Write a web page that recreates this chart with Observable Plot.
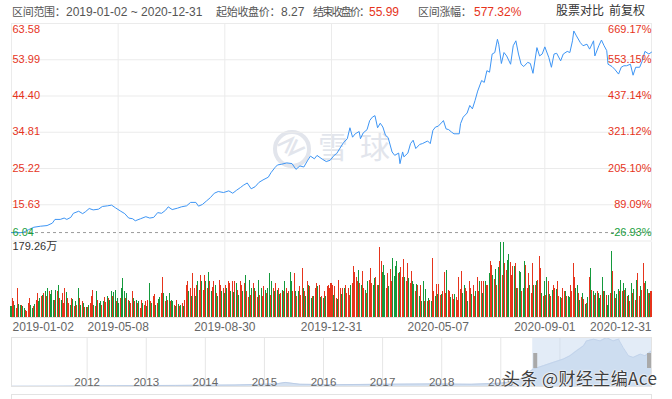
<!DOCTYPE html>
<html><head><meta charset="utf-8">
<script src="https://cdn.jsdelivr.net/npm/d3@7"></script>
<script src="https://cdn.jsdelivr.net/npm/@observablehq/plot@0.6"></script>
<style>
body{margin:0;background:#fff;}
#wrap{position:relative;width:672px;height:399px;overflow:hidden;background:#fff;font-family:"Liberation Sans",Arial,"Noto Sans CJK SC",sans-serif;}
.h{position:absolute;top:5px;white-space:nowrap;line-height:14px;}
.cjk{font-size:11px;color:#555;}
.num{font-size:12px;color:#555;}
</style></head>
<body><div id="wrap"></div>
<script>
// ---------- data ----------
const headerRange = ["2019-01-02", "2020-12-31"];
const startClose = 8.27;
const endClose = 55.99;
const rangeChange = "577.32%";

const dateTickIdx = [0, 81, 162, 243, 324, 405, 486];
const dateTickLabels = ["2019-01-02","2019-05-08","2019-08-30","2019-12-31","2020-05-07","2020-09-01","2020-12-31"];
const priceTicks = [6.04, 15.63, 25.22, 34.81, 44.40, 53.99, 63.58];
const priceTickLabels = ["6.04","15.63","25.22","34.81","44.40","53.99","63.58"];
const pctTickLabels = ["-26.93%","89.09%","205.10%","321.12%","437.14%","553.15%","669.17%"];
const volMax = 179.26;
const volMaxLabel = "179.26万";

// trading-day index and close price
const days = [0,6,9,13,17,22,27,31,33,37,40,42,45,47,51,54,56,59,62,66,69,73,76,79,83,86,89,92,94,98,102,105,108,111,114,117,119,122,126,129,133,136,140,142,145,148,151,154,157,161,165,168,171,174,176,179,182,185,188,191,195,197,200,202,205,209,213,216,219,222,225,227,230,232,236,239,242,245,247,250,252,255,257,259,261,264,265,267,270,272,274,276,278,280,282,284,286,289,291,294,295,297,298,301,303,305,307,310,312,316,318,320,322,324,327,328,330,332,334,336,340,341,343,346,348,350,352,354,357,359,361,363,365,367,369,370,372,374,376,379,381,383,385,387,389,392,394,396,399,401,403,405,408,410,412,414,417,419,422,424,426,427,429,432,434,437,439,442,443,446,448,450,452,453,456,458,461,463,465,467,470,472,474,477,479,481,484,486];
const closes = [8.27,8.23,8.32,9.04,9.68,9.95,10.12,10.76,11.75,11.75,12.11,11.75,12.29,13.37,13.91,13.28,13.73,14.63,14.27,14.45,15.17,15.35,15.53,14.81,13.91,13.28,12.11,11.93,11.39,11.93,12.47,12.11,12.29,13.55,13.37,14.18,15.08,14.36,14.72,15.08,15.35,16.25,16.25,15.26,15.71,16.61,17.51,18.68,19.13,18.86,19.31,18.68,19.49,20.22,20.76,21.39,19.85,20.40,21.57,22.20,22.92,24.09,25.44,26.16,26.34,26.70,26.52,24.99,25.89,25.62,27.42,28.50,27.78,28.68,27.69,27.06,27.40,28.70,29.2,30.9,32.0,33.1,36.0,33.5,34.4,35.0,33.1,34.6,35.5,37.9,38.8,39.2,36.0,37.2,36.2,34.0,33.4,29.6,28.7,29.3,26.5,29.6,28.3,29.3,31.8,32.7,30.5,31.6,31.8,32.5,31.8,35.3,36.2,36.4,37.5,37.9,35.7,35.5,34.9,34.4,34.4,37.1,38.8,39.9,41.9,41.0,43.2,45.7,48.5,48.0,51.1,50.7,55.5,55.9,59.4,58.1,53.0,55.9,55.0,52.8,57.7,59.0,55.5,52.8,52.2,53.3,53.0,50.4,57.2,55.0,55.5,57.4,54.6,52.0,55.5,55.7,53.7,55.5,56.2,55.9,59.0,61.6,60.3,58.5,57.7,58.1,56.8,59.0,55.0,57.7,59.2,57.7,56.4,52.8,52.2,51.5,50.2,52.0,52.4,52.4,52.8,49.9,52.0,52.0,53.7,56.2,55.5,55.99];

// daily volume (万), one per trading day
const volumes = [
25,45,37,29,21,70,31,29,29,25, 21,17,15,33,45,29,21,25,31,41, 57,37,45,49,53,57,62,49,69,61,55,
65,41,41,65,62,77,45,41,57,33, 69,59,45,33,29,45,43,25,37,29, 69,45,29,39,33,23,23,23,29,33,
51,65,29,25,61,41,33,39,29,37,47, 36,49,45,41,61,49,59,65,37,45, 33,45,69,92,61,45,57,41,37,33,
61,45,37,41,33,39,21,41,33,29, 37,25,41,80,37,33,49,55,29,33,43, 47,57,94,57,37,49,41,57,37,41,
37,29,25,41,31,25,29,33,25,41, 77,85,61,69,49,104,69,49,77,85, 65,99,85,65,100,85,69,108,85,61,72,
85,77,57,49,88,77,61,70,57,75, 69,86,81,61,85,59,86,80,65,53, 85,77,61,81,100,61,47,88,53,69,
81,69,61,47,88,53,69,49,73,65,58, 69,104,53,85,69,61,81,65,70,55, 57,65,61,85,69,57,62,108,85,61,
104,61,49,61,73,53,116,69,61,49, 86,77,73,45,49,49,69,81,73,77, 47,49,45,61,49,73,77,69,
81,77,53,73,45,43,88,69,55,69, 69,77,57,69,53,77,81,120,108,96, 85,111,81,77,110,70,65,57,85,88,
116,81,77,92,94,77,77,167,134,106, 124,100,69,104,73,115,85,141,98,120, 132,104,108,118,96,138,94,85,128,92,80,
110,85,78,61,78,75,49,75,39,85, 39,67,37,45,40,37,141,61,51,78,55, 78,53,55,62,107,57,112,65,61,47,
55,43,55,47,41,96,67,110,57,77,70, 61,39,86,70,55,77,51,61,96,61, 86,86,57,85,86,77,77,104,132,124,100,
91,115,77,118,132,178,99,179.26,128,112, 136,149,130,100,120,122,128,69,70,110, 108,61,69,134,124,70,104,77,57,128,
77,75,85,88,146,116,57,49,86,53, 96,85,55,51,65,77,69,67,85,49, 47,45,69,61,61,51,49,47,77,61,
128,94,69,77,57,41,47,57,43,31, 33,47,94,116,65,61,53,57,61,58, 45,53,94,61,61,53,29,53,57,156,
110,61,45,55,67,61,88,61,80,65, 69,49,53,39,80,57,67,41,88,104, 49,73,65,128,81,85,67,57,57,61
];
// r = closed up (red), g = closed down (green)
const volDir = (
"grrgrrggrg"+"grrrrggrgr"+"rggrgrgrgrg"+"ggrgrgrgrr"+"rgrrgrgrgr"+"grgrgrgrgr"+
"rrgrgrggrgr"+"rgrggrggrg"+"grgggrgrgr"+"rgrgrgrrgr"+"rgrgrgrrgrg"+"grrgrgrgrg"+
"grgrgrgrgr"+"rrgrgrrgrg"+"rrgrrgrgrgr"+"rgrgrrgrgr"+"grrgrgrgrg"+"rrgrgrrgrg"+
"rgrrgrgrrgr"+"ggrgrgrgrg"+"rgrgrgrggr"+"rgrgrrrgrg"+"rgrgrgrrgr"+"grgrgrrr"+
"rrgrrgrrgr"+"grrrrgrrrr"+"rgrgrrgrgr"+"rrggrrgrrg"+"ggrrgrrggg"+"grgrrrgrrgr"+
"rggrgrgrgg"+"rgrgrgrrgrg"+"rrgrrrgrrg"+"rrgrrrrrggr"+"rgrrgrrgrr"+"grgrgrrgrrg"+
"rgrgrgrgrr"+"ggrrrgrgrg"+"grggrrrgrr"+"grgrrrgrgr"+"grgrgrrgrr"+"grrrgrggrr"+
"rrggrgrgrg"+"rgrgrgrgrg"+"grgrgrggrg"+"rgrggrgrgr"+"grgrgrgrgr"+"rgrrrggrgr"
).split("");

// navigator (full history overview)
const navYears = [2012,2013,2014,2015,2016,2017,2018,2019,2020,2021];
const navYearLabels = ["2012","2013","2014","2015","2016","2017","2018","2019"];
const navT = [2010.72,2011.5,2012.5,2013.5,2014.5,2015.2,2015.35,2015.6,2016.2,2017.0,2017.8,2018.5,2019.0,2019.3,2019.55,2019.72,2019.89,2020.06,2020.17,2020.28,2020.40,2020.45,2020.57,2020.68,2020.79,2020.90,2020.99,2021.07,2021.16,2021.24,2021.36,2021.44,2021.55];
const navV = [0.3,0.5,1.0,1.5,2.0,3.5,5.5,3.0,2.5,3.0,3.5,3.0,4.5,8,23.6,28,32.5,37,41.4,48,54.8,61.4,63.7,61.4,65.9,61.4,63.7,52.5,41.4,39.2,43.6,41.4,48];
const navSelection = [2019.54, 2021.55];

// ---------- styles ----------
const red = "#e6341c", green = "#14993c", greenText = "#1a9e3e", blue = "#3d95f5", grid = "#ebebeb";
const font = '"Liberation Sans", Arial, "Noto Sans CJK SC", sans-serif';
const W = 672;
const wrap = document.getElementById("wrap");
function put(el, top) {
  el.style.position = "absolute"; el.style.left = "0px"; el.style.top = top + "px";
  wrap.appendChild(el);
}
function html(tag, css, text) {
  const e = document.createElement(tag); e.style.cssText = css; if (text != null) e.textContent = text;
  wrap.appendChild(e); return e;
}

// ---------- header ----------
// [left, class, text, colour, letter-spacing]
const hdr = [
  [12, "cjk", "区间范围：", null, -0.3], [66, "num", headerRange[0] + " ~ " + headerRange[1]],
  [216, "cjk", "起始收盘价：", null, -0.3], [281, "num", String(startClose)],
  [313, "cjk", "结束收盘价：", null, -1.8], [369, "num", endClose.toFixed(2), red],
  [418, "cjk", "区间涨幅：", null, -0.3], [474, "num", rangeChange, red]
];
hdr.forEach(([x, cls, t, c, ls]) => {
  const e = html("div", `left:${x}px;` + (c ? `color:${c};` : "") + (ls ? `letter-spacing:${ls}px;` : ""), t);
  e.className = "h " + cls;
});
html("div", "position:absolute;left:556px;top:4px;font-size:12px;line-height:15px;color:#333;white-space:nowrap;", "股票对比");
html("div", "position:absolute;left:609px;top:4px;font-size:12px;line-height:15px;color:#333;white-space:nowrap;", "前复权");

// ---------- watermark (snowball) ----------
html("div", "position:absolute;left:273px;top:130px;width:30px;height:30px;border:4px solid #e2e5ec;border-radius:50%;");
html("div", "position:absolute;left:276px;top:131px;width:32px;text-align:center;font-size:24px;line-height:32px;color:#e2e5ec;font-weight:bold;transform:rotate(-45deg);", "≷");
html("div", "position:absolute;left:318px;top:127px;font-size:30px;line-height:36px;letter-spacing:12px;color:#e2e5ec;font-family:'Noto Sans CJK SC',sans-serif;", "雪球");

// ---------- price panel ----------
const priceRows = days.map((d, i) => ({d, p: closes[i]}));
const tickRows = priceTicks.map((v, i) => ({v, l: priceTickLabels[i], r: pctTickLabels[i], i}));
const lastT = tickRows.length - 1;
const labelMarks = (rows, dy, fill) => [
  Plot.text(rows, {y: "v", text: "l", frameAnchor: "left", textAnchor: "start", lineAnchor: "middle", dx: 1, dy, fill, fontSize: 11}),
  Plot.text(rows, {y: "v", text: "r", frameAnchor: "right", textAnchor: "end", lineAnchor: "middle", dx: 0, dy, fill, fontSize: 11})
];
const pricePlot = Plot.plot({
  width: W, height: 245,
  marginLeft: 11, marginRight: 21, marginTop: 23, marginBottom: 4.5,
  x: {domain: [0, 486], axis: null},
  y: {domain: [priceTicks[0], priceTicks[lastT]], axis: null},
  style: {background: "transparent", fontFamily: font, overflow: "visible"},
  marks: [
    Plot.ruleY(priceTicks, {stroke: grid}),
    Plot.ruleX(dateTickIdx, {stroke: grid}),
    Plot.ruleY([startClose], {stroke: "#9a9a9a", strokeDasharray: "3,3"}),
    Plot.line(priceRows, {x: "d", y: "p", stroke: blue, strokeWidth: 1}),
    ...labelMarks(tickRows.filter(d => d.i > 0 && d.i < lastT), -0.5, red),
    ...labelMarks(tickRows.filter(d => d.i === lastT), 5.5, red),
    ...labelMarks(tickRows.filter(d => d.i === 0), -8.5, greenText)
  ]
});
put(pricePlot, 0);

// ---------- volume panel ----------
const nV = Math.min(volumes.length, volDir.length);
const volRows = d3.range(nV).map(i => ({i, v: volumes[i], up: volDir[i] === "r"}));
const dateRows = dateTickIdx.map((x, i) => ({x, l: dateTickLabels[i], i}));
const lastD = dateRows.length - 1;
const dateStyle = {x: "x", text: "l", frameAnchor: "bottom", lineAnchor: "middle", dy: 10, fill: "#666", fontSize: 12};
const volPlot = Plot.plot({
  width: W, height: 100,
  marginLeft: 11, marginRight: 21, marginTop: 5.5, marginBottom: 19,
  x: {domain: [0, 486], axis: null},
  y: {domain: [0, volMax], axis: null},
  style: {background: "transparent", fontFamily: font, overflow: "visible"},
  marks: [
    Plot.ruleX(dateTickIdx, {stroke: grid}),
    Plot.ruleY([0], {stroke: "#e3e3e3"}),
    Plot.rectY(volRows, {x1: d => d.i - 0.38, x2: d => d.i + 0.38, y: "v", fill: d => d.up ? red : green, shapeRendering: "crispEdges"}),
    Plot.text([volMaxLabel], {text: d => d, frameAnchor: "top-left", textAnchor: "start", lineAnchor: "middle", dx: 1, dy: 4.5, fill: "#333", fontSize: 11}),
    Plot.text(dateRows.filter(d => d.i === 0), {...dateStyle, textAnchor: "start", dx: 1}),
    Plot.text(dateRows.filter(d => d.i > 0 && d.i < lastD), {...dateStyle, textAnchor: "middle"}),
    Plot.text(dateRows.filter(d => d.i === lastD), {...dateStyle, textAnchor: "end"})
  ]
});
put(volPlot, 236);

// ---------- navigator ----------
const navRows = navT.map((t, i) => ({t, v: navV[i]}));
const navPlot = Plot.plot({
  width: W, height: 69,
  marginLeft: 11, marginRight: 21, marginTop: 7, marginBottom: 13,
  x: {domain: [navT[0], navT[navT.length - 1]], axis: null},
  y: {domain: [0, 66], axis: null},
  style: {background: "transparent", fontFamily: font, overflow: "visible"},
  marks: [
    Plot.ruleX(navYears, {stroke: "#e6e6e6"}),
    Plot.areaY(navRows, {x: "t", y: "v", fill: "#d3e0f0"}),
    Plot.lineY(navRows, {x: "t", y: "v", stroke: "#bccde6", strokeWidth: 1}),
    Plot.rect([navSelection], {x1: d => d[0], x2: d => d[1], fill: "#c8daf0", fillOpacity: 0.5}),
    Plot.ruleX([navSelection[0]], {stroke: "#a9a9a9", strokeWidth: 4, insetTop: 16, insetBottom: 18, dx: 2.5}),
    Plot.ruleX([navSelection[1]], {stroke: "#a9a9a9", strokeWidth: 4, insetTop: 16, insetBottom: 18, dx: -2.5}),
    Plot.frame({stroke: "#e3e3e3"}),
    Plot.text(navYearLabels, {x: d => +d, text: d => d, frameAnchor: "bottom", lineAnchor: "middle", dy: -4.5, fill: "#666", fontSize: 11.5})
  ]
});
put(navPlot, 330);

// scrollbar edge
html("div", "position:absolute;left:11px;top:394px;width:639px;height:8px;border:1px solid #e3e3e3;");

// toutiao watermark
html("div", "position:absolute;left:503px;top:368px;font-size:17px;line-height:19px;letter-spacing:0.4px;color:#3e3e3e;white-space:nowrap;font-family:'Noto Sans CJK SC',sans-serif;text-shadow:0 0 2px #fff,0 0 2px #fff,0 0 1px #fff;", "头条 @财经主编Ace");
</script>
</body></html>
